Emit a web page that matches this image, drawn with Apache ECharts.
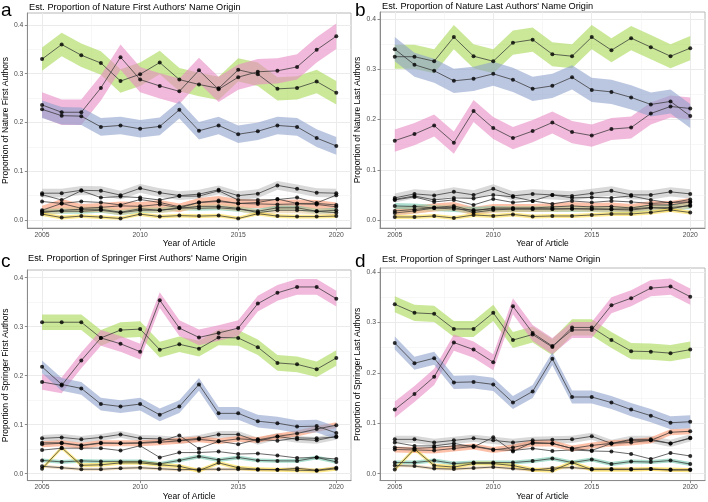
<!DOCTYPE html>
<html><head><meta charset="utf-8">
<script src="https://cdn.jsdelivr.net/npm/echarts@6/dist/echarts.min.js"></script>
<style>html,body{margin:0;padding:0;background:#fff}#c{width:708px;height:502px}</style>
</head><body><div id="c"></div>
<script>
// ---------- data ----------
const years = [2005,2006,2007,2008,2009,2010,2011,2012,2013,2014,2015,2016,2017,2018,2019,2020];
const xTickValues = [2005,2010,2015,2020];
const xMinorValues = [2007.5,2012.5,2017.5];
const yTickValues = [0,0.1,0.2,0.3,0.4];
const yMinorValues = [0.05,0.15,0.25,0.35];

// groups with ribbons (order): gray, orange, teal, tan, yellow, green, pink, blue ; plus two lines without ribbons
// Panel a: Nature first authors
const natFirstGray   = [0.055,0.055,0.061,0.060,0.051,0.065,0.056,0.050,0.053,0.062,0.050,0.054,0.071,0.064,0.056,0.055];
const natFirstOrange = [0.020,0.034,0.024,0.026,0.029,0.028,0.032,0.025,0.036,0.040,0.034,0.033,0.032,0.033,0.032,0.027];
const natFirstTeal   = [0.018,0.018,0.018,0.020,0.015,0.020,0.020,0.025,0.024,0.025,0.022,0.018,0.025,0.025,0.018,0.020];
const natFirstTan    = [0.015,0.020,0.022,0.022,0.016,0.023,0.020,0.024,0.028,0.028,0.024,0.015,0.020,0.020,0.018,0.015];
const natFirstYellow = [0.012,0.005,0.008,0.006,0.003,0.012,0.007,0.009,0.008,0.009,0.003,0.013,0.008,0.007,0.007,0.008];
const natFirstGreen  = [0.330,0.360,0.338,0.322,0.285,0.299,0.323,0.288,0.278,0.270,0.308,0.299,0.269,0.271,0.284,0.261];
const natFirstPink   = [0.236,0.221,0.221,0.271,0.334,0.288,0.275,0.264,0.307,0.268,0.293,0.304,0.306,0.314,0.349,0.377];
const natFirstBlue   = [0.227,0.214,0.213,0.191,0.194,0.187,0.192,0.226,0.183,0.194,0.176,0.182,0.194,0.191,0.168,0.152];
const natFirstOtherA = [0.052,0.041,0.060,0.046,0.048,0.046,0.041,0.049,0.049,0.060,0.041,0.041,0.042,0.046,0.035,0.051];
const natFirstOtherB = [0.038,0.034,0.038,0.036,0.031,0.042,0.036,0.027,0.036,0.038,0.034,0.036,0.043,0.034,0.034,0.031];
const natFirstHalf   = [0.009,0.009,0.005,0.006,0.004,0.024,0.026,0.018];

// Panel b: Nature last authors
const natLastGray   = [0.044,0.052,0.049,0.056,0.050,0.062,0.048,0.052,0.050,0.048,0.053,0.058,0.050,0.050,0.056,0.052];
const natLastOrange = [0.018,0.021,0.025,0.028,0.018,0.024,0.024,0.024,0.026,0.028,0.026,0.027,0.024,0.030,0.030,0.036];
const natLastTeal   = [0.028,0.027,0.024,0.022,0.020,0.022,0.022,0.022,0.022,0.022,0.022,0.021,0.020,0.024,0.025,0.028];
const natLastTan    = [0.014,0.018,0.024,0.025,0.015,0.020,0.022,0.022,0.022,0.023,0.022,0.022,0.022,0.025,0.022,0.030];
const natLastYellow = [0.006,0.006,0.008,0.004,0.010,0.008,0.011,0.007,0.008,0.008,0.010,0.012,0.012,0.015,0.020,0.015];
const natLastGreen  = [0.325,0.325,0.316,0.364,0.326,0.316,0.353,0.359,0.330,0.326,0.364,0.338,0.362,0.344,0.326,0.342];
const natLastPink   = [0.158,0.171,0.188,0.154,0.217,0.183,0.163,0.177,0.194,0.175,0.168,0.181,0.184,0.212,0.226,0.222];
const natLastBlue   = [0.340,0.309,0.297,0.277,0.281,0.291,0.279,0.261,0.267,0.284,0.259,0.255,0.244,0.230,0.236,0.207];
const natLastOtherA = [0.041,0.048,0.040,0.044,0.043,0.050,0.046,0.038,0.050,0.044,0.045,0.044,0.048,0.040,0.034,0.041];
const natLastOtherB = [0.040,0.046,0.036,0.040,0.030,0.042,0.035,0.038,0.032,0.038,0.035,0.038,0.036,0.033,0.035,0.036];
const natLastHalf   = [0.009,0.008,0.006,0.006,0.004,0.024,0.022,0.024];

// Panel c: Springer first authors
const sprFirstGray   = [0.072,0.074,0.070,0.074,0.080,0.072,0.071,0.068,0.072,0.080,0.080,0.066,0.076,0.070,0.068,0.076];
const sprFirstOrange = [0.060,0.062,0.057,0.062,0.062,0.062,0.064,0.067,0.070,0.066,0.071,0.069,0.076,0.082,0.091,0.099];
const sprFirstTeal   = [0.027,0.024,0.026,0.025,0.025,0.025,0.020,0.027,0.035,0.028,0.033,0.027,0.026,0.026,0.033,0.024];
const sprFirstTan    = [0.015,0.012,0.009,0.009,0.011,0.012,0.010,0.008,0.009,0.009,0.009,0.008,0.008,0.011,0.007,0.012];
const sprFirstYellow = [0.010,0.053,0.017,0.018,0.022,0.022,0.018,0.015,0.006,0.022,0.012,0.009,0.008,0.007,0.006,0.010];
const sprFirstGreen  = [0.309,0.309,0.309,0.277,0.293,0.295,0.253,0.264,0.255,0.278,0.277,0.258,0.226,0.223,0.213,0.236];
const sprFirstPink   = [0.187,0.180,0.231,0.277,0.265,0.249,0.354,0.297,0.278,0.287,0.297,0.347,0.369,0.381,0.381,0.357];
const sprFirstBlue   = [0.218,0.182,0.174,0.142,0.137,0.142,0.120,0.137,0.182,0.123,0.123,0.107,0.103,0.096,0.097,0.083];
const sprFirstOtherA = [0.063,0.063,0.058,0.063,0.062,0.063,0.066,0.078,0.051,0.066,0.060,0.070,0.067,0.073,0.072,0.075];
const sprFirstOtherB = [0.048,0.052,0.052,0.052,0.047,0.057,0.033,0.043,0.043,0.045,0.040,0.041,0.037,0.032,0.033,0.030];
const sprFirstHalf   = [0.007,0.006,0.004,0.003,0.004,0.016,0.016,0.013];

// Panel d: Springer last authors
const sprLastGray   = [0.068,0.068,0.062,0.066,0.070,0.066,0.062,0.066,0.067,0.068,0.074,0.060,0.068,0.068,0.060,0.071];
const sprLastOrange = [0.048,0.047,0.046,0.050,0.054,0.047,0.052,0.060,0.060,0.050,0.056,0.060,0.062,0.066,0.082,0.084];
const sprLastTeal   = [0.022,0.022,0.026,0.020,0.022,0.022,0.022,0.025,0.030,0.022,0.028,0.019,0.024,0.023,0.026,0.019];
const sprLastTan    = [0.016,0.015,0.010,0.009,0.011,0.013,0.010,0.007,0.011,0.012,0.009,0.009,0.009,0.009,0.007,0.008];
const sprLastYellow = [0.008,0.049,0.016,0.013,0.020,0.020,0.016,0.008,0.006,0.022,0.008,0.008,0.008,0.009,0.008,0.007];
const sprLastGreen  = [0.336,0.319,0.317,0.287,0.287,0.319,0.265,0.276,0.251,0.290,0.290,0.265,0.243,0.242,0.239,0.246];
const sprLastPink   = [0.127,0.158,0.192,0.260,0.246,0.221,0.332,0.279,0.253,0.285,0.285,0.334,0.348,0.368,0.371,0.351];
const sprLastBlue   = [0.259,0.219,0.229,0.181,0.182,0.177,0.141,0.163,0.228,0.152,0.152,0.141,0.127,0.115,0.101,0.103];
const sprLastOtherA = [0.062,0.055,0.055,0.060,0.053,0.072,0.044,0.062,0.060,0.050,0.046,0.060,0.066,0.066,0.060,0.070];
const sprLastOtherB = [0.052,0.050,0.052,0.055,0.055,0.048,0.046,0.050,0.045,0.047,0.045,0.044,0.039,0.029,0.041,0.035];
const sprLastHalf   = [0.007,0.006,0.004,0.003,0.004,0.016,0.016,0.013];

const ribbonColors = ['rgba(179,179,179,0.5)','rgba(252,141,98,0.55)','rgba(102,194,165,0.55)','rgba(229,196,148,0.55)','rgba(255,217,47,0.55)','rgba(166,216,84,0.6)','rgba(231,138,195,0.6)','rgba(141,160,203,0.6)'];

const panels = [
  {letter:'a', title:"Est. Proportion of Nature First Authors' Name Origin", yName:'Proportion of Nature First Authors',
   ribbons:[natFirstGray,natFirstOrange,natFirstTeal,natFirstTan,natFirstYellow,natFirstGreen,natFirstPink,natFirstBlue],
   others:[natFirstOtherA,natFirstOtherB], half:natFirstHalf,
   grid:{left:26,top:13,width:325,height:215}, ymin:-0.0164, ymax:0.4246, lx:1, ly:11, tx:29, ty:7},
  {letter:'b', title:"Est. Proportion of Nature Last Authors' Name Origin", yName:'Proportion of Nature Last Authors',
   ribbons:[natLastGray,natLastOrange,natLastTeal,natLastTan,natLastYellow,natLastGreen,natLastPink,natLastBlue],
   others:[natLastOtherA,natLastOtherB], half:natLastHalf,
   grid:{left:380,top:12,width:325,height:216}, ymin:-0.0159, ymax:0.414, lx:355, ly:11, tx:382, ty:6},
  {letter:'c', title:"Est. Proportion of Springer First Authors' Name Origin", yName:'Proportion of Springer First Authors',
   ribbons:[sprFirstGray,sprFirstOrange,sprFirstTeal,sprFirstTan,sprFirstYellow,sprFirstGreen,sprFirstPink,sprFirstBlue],
   others:[sprFirstOtherA,sprFirstOtherB], half:sprFirstHalf,
   grid:{left:26,top:270,width:325,height:212}, ymin:-0.0142, ymax:0.4156, lx:1, ly:262, tx:28, ty:258},
  {letter:'d', title:"Est. Proportion of Springer Last Authors' Name Origin", yName:'Proportion of Springer Last Authors',
   ribbons:[sprLastGray,sprLastOrange,sprLastTeal,sprLastTan,sprLastYellow,sprLastGreen,sprLastPink,sprLastBlue],
   others:[sprLastOtherA,sprLastOtherB], half:sprLastHalf,
   grid:{left:380,top:268,width:325,height:214}, ymin:-0.0138, ymax:0.4079, lx:355, ly:262, tx:382, ty:259}
];

// ---------- chart ----------
const FONT = '"Liberation Sans", Arial, Helvetica, sans-serif';
const grids = [], xAxes = [], yAxes = [], series = [], graphics = [];
const NP = panels.length;

panels.forEach((p, k) => {
  grids.push(Object.assign({show:true, borderColor:'#b8b8b8', borderWidth:1, backgroundColor:'#fff', containLabel:false}, p.grid));
  xAxes[k] = {
    type:'value', gridIndex:k, min:2004.25, max:2020.75,
    name:'Year of Article', nameLocation:'middle', nameGap:10,
    nameTextStyle:{fontFamily:FONT, fontSize:8.5, color:'#000'},
    axisLine:{show:true, onZero:false, lineStyle:{color:'#8a8a8a', width:1}},
    axisTick:{show:true, length:2.5, customValues:xTickValues, lineStyle:{color:'#8a8a8a'}},
    axisLabel:{customValues:xTickValues, fontFamily:FONT, fontSize:6.8, color:'#4d4d4d', margin:3.5,
               formatter:v => String(Math.round(v))},
    splitLine:{show:true, lineStyle:{color:'#ebebeb', width:1}}
  };
  yAxes[k] = {
    type:'value', gridIndex:k, min:p.ymin, max:p.ymax,
    name:p.yName, nameLocation:'middle', nameGap:9,
    nameTextStyle:{fontFamily:FONT, fontSize:8.5, color:'#000'},
    axisLine:{show:true, onZero:false, lineStyle:{color:'#8a8a8a', width:1}},
    axisTick:{show:true, length:2.5, customValues:yTickValues, lineStyle:{color:'#8a8a8a'}},
    axisLabel:{customValues:yTickValues, fontFamily:FONT, fontSize:6.8, color:'#4d4d4d', margin:4,
               formatter:v => v.toFixed(1)},
    splitLine:{show:true, lineStyle:{color:'#ebebeb', width:1}}
  };
  // minor grid axes
  xAxes[NP + k] = {
    type:'value', gridIndex:k, min:2004.25, max:2020.75, position:'top',
    axisLine:{show:false}, axisLabel:{show:false},
    axisTick:{show:false, customValues:xMinorValues},
    splitLine:{show:true, lineStyle:{color:'#f2f2f2', width:0.6}}
  };
  yAxes[NP + k] = {
    type:'value', gridIndex:k, min:p.ymin, max:p.ymax, position:'right',
    axisLine:{show:false}, axisLabel:{show:false},
    axisTick:{show:false, customValues:yMinorValues},
    splitLine:{show:true, lineStyle:{color:'#f2f2f2', width:0.6}}
  };

  // ribbons
  p.ribbons.forEach((vals, gi) => {
    const h = p.half[gi];
    const color = ribbonColors[gi];
    series.push({
      type:'custom', xAxisIndex:k, yAxisIndex:k, silent:true, z:1, animation:false,
      data: years.map((yr, i) => [yr, vals[i]]),
      renderItem: function(params, api) {
        if (params.dataIndex !== 0) return null;
        const pts = [];
        for (let i = 0; i < years.length; i++) pts.push(api.coord([years[i], vals[i] + h]));
        for (let i = years.length - 1; i >= 0; i--) pts.push(api.coord([years[i], Math.max(vals[i] - h, 0.0005)]));
        return {type:'polygon', shape:{points:pts}, style:{fill:color}};
      }
    });
  });
  // lines
  const allLines = p.ribbons.concat(p.others);
  allLines.forEach(vals => {
    series.push({
      type:'line', xAxisIndex:k, yAxisIndex:k, silent:true, z:3, animation:false,
      symbol:'none', data: years.map((yr, i) => [yr, vals[i]]),
      lineStyle:{color:'#363636', width:0.75}
    });
  });
  // points
  const pts = [];
  allLines.forEach(vals => years.forEach((yr, i) => pts.push([yr, vals[i]])));
  series.push({
    type:'scatter', xAxisIndex:k, yAxisIndex:k, silent:true, z:4, animation:false,
    symbol:'circle', symbolSize:4, data:pts, itemStyle:{color:'#000'}
  });

  graphics.push({type:'text', x:p.lx, y:p.ly, style:{text:p.letter, fontFamily:FONT, fontSize:19, fill:'#000', verticalAlign:'middle', align:'left'}});
  graphics.push({type:'text', x:p.tx, y:p.ty, style:{text:p.title, fontFamily:FONT, fontSize:9.2, fill:'#000', verticalAlign:'middle', align:'left'}});
});

const chart = echarts.init(document.getElementById('c'), null, {renderer:'canvas'});
chart.setOption({
  animation:false,
  backgroundColor:'#fff',
  grid:grids, xAxis:xAxes, yAxis:yAxes, series:series, graphic:graphics
});
</script>
</body></html>
